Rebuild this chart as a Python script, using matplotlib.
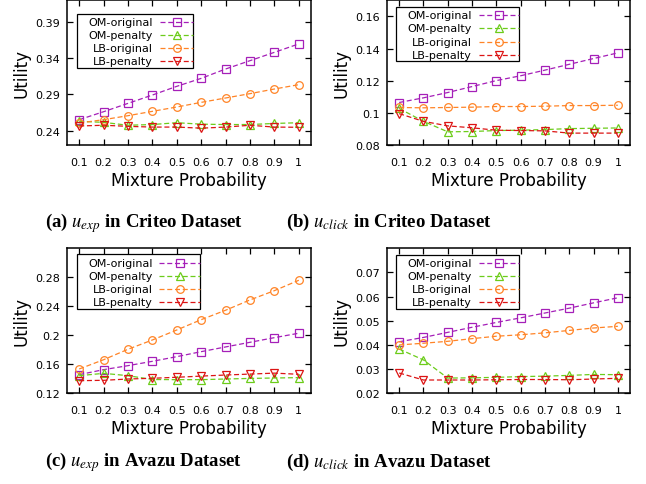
import matplotlib
matplotlib.use('Agg')
import matplotlib.pyplot as plt
from matplotlib.lines import Line2D
from matplotlib.patches import Rectangle
from matplotlib.transforms import Affine2D

plt.rcParams['font.family'] = 'DejaVu Sans'
plt.rcParams['mathtext.fontset'] = 'stix'

W, H = 646, 485

# Data
mix_prob = [0.1, 0.2, 0.3, 0.4, 0.5, 0.6, 0.7, 0.8, 0.9, 1.0]
xtick_labels = ['0.1', '0.2', '0.3', '0.4', '0.5', '0.6', '0.7', '0.8', '0.9', '1']
series_names = ['OM-original', 'OM-penalty', 'LB-original', 'LB-penalty']

criteo_exp_om_orig = [0.2552, 0.2662, 0.2777, 0.2892, 0.3012, 0.3122, 0.3251, 0.3366, 0.3481, 0.3597]
criteo_exp_om_pen = [0.2530, 0.2515, 0.2475, 0.2485, 0.2510, 0.2490, 0.2485, 0.2485, 0.2500, 0.2510]
criteo_exp_lb_orig = [0.2506, 0.2552, 0.2607, 0.2667, 0.2727, 0.2791, 0.2851, 0.2911, 0.2975, 0.3035]
criteo_exp_lb_pen = [0.2465, 0.2475, 0.2460, 0.2450, 0.2450, 0.2435, 0.2450, 0.2475, 0.2450, 0.2447]

criteo_click_om_orig = [0.1065, 0.1094, 0.1127, 0.1164, 0.1201, 0.1231, 0.1266, 0.1302, 0.1338, 0.1373]
criteo_click_om_pen = [0.1028, 0.0948, 0.0883, 0.0885, 0.0891, 0.0893, 0.0897, 0.0903, 0.0905, 0.0907]
criteo_click_lb_orig = [0.1034, 0.1032, 0.1034, 0.1036, 0.1040, 0.1040, 0.1042, 0.1046, 0.1046, 0.1048]
criteo_click_lb_pen = [0.0996, 0.0948, 0.0920, 0.0908, 0.0893, 0.0891, 0.0889, 0.0875, 0.0875, 0.0875]

avazu_exp_om_orig = [0.1457, 0.1526, 0.1581, 0.1641, 0.1705, 0.1774, 0.1839, 0.1903, 0.1967, 0.2028]
avazu_exp_om_pen = [0.1443, 0.1475, 0.1443, 0.1390, 0.1388, 0.1388, 0.1397, 0.1405, 0.1411, 0.1416]
avazu_exp_lb_orig = [0.1535, 0.1663, 0.1807, 0.1935, 0.2073, 0.2215, 0.2345, 0.2487, 0.2615, 0.2758]
avazu_exp_lb_pen = [0.1374, 0.1379, 0.1397, 0.1407, 0.1421, 0.1437, 0.1452, 0.1465, 0.1478, 0.1462]

avazu_click_om_orig = [0.0413, 0.0431, 0.0452, 0.0473, 0.0493, 0.0512, 0.0532, 0.0552, 0.0574, 0.0595]
avazu_click_om_pen = [0.0383, 0.0338, 0.0263, 0.0264, 0.0266, 0.0269, 0.0271, 0.0274, 0.0278, 0.0277]
avazu_click_lb_orig = [0.0400, 0.0407, 0.0415, 0.0426, 0.0436, 0.0442, 0.0450, 0.0460, 0.0470, 0.0477]
avazu_click_lb_pen = [0.0284, 0.0255, 0.0255, 0.0255, 0.0256, 0.0257, 0.0257, 0.0256, 0.0259, 0.0262]

# Styles
COLORS = ['#a51fb8', '#6ccc1a', '#ff8427', '#dc1414']
MARKERS = ['s', '^', 'o', 'v']

fig = plt.figure(figsize=(W / 100, H / 100), dpi=100, facecolor='white')
# pixel coords (y from top) -> figure
px = Affine2D().scale(1 / W, -1 / H).translate(0, 1) + fig.transFigure

panels = [
    dict(box=(67, 1.2, 311, 146.2),
         data=[criteo_exp_om_orig, criteo_exp_om_pen, criteo_exp_lb_orig, criteo_exp_lb_pen],
         ylim=(0.22, 0.42), yticks=[0.24, 0.29, 0.34, 0.39],
         yticklabels=['0.24', '0.29', '0.34', '0.39'],
         leg=dict(box=(77, 15, 193, 69), text_r=153, line=(160, 193), rows=[22.7, 35.6, 49, 62.3]),
         cap=(144, r'(a) $u_{exp}$ in Criteo Dataset', 227)),
    dict(box=(387, 1.2, 630, 146.2),
         data=[criteo_click_om_orig, criteo_click_om_pen, criteo_click_lb_orig, criteo_click_lb_pen],
         ylim=(0.08, 0.17), yticks=[0.08, 0.10, 0.12, 0.14, 0.16],
         yticklabels=['0.08', '0.1', '0.12', '0.14', '0.16'],
         leg=dict(box=(396, 8, 519, 62), text_r=471.7, line=(478.7, 519), rows=[15.7, 29, 42.7, 56]),
         cap=(388.5, r'(b) $u_{click}$ in Criteo Dataset', 227)),
    dict(box=(67, 249.2, 311, 394.3),
         data=[avazu_exp_om_orig, avazu_exp_om_pen, avazu_exp_lb_orig, avazu_exp_lb_pen],
         ylim=(0.12, 0.32), yticks=[0.12, 0.16, 0.20, 0.24, 0.28],
         yticklabels=['0.12', '0.16', '0.2', '0.24', '0.28'],
         leg=dict(box=(77, 255, 200, 310), text_r=152.7, line=(159, 200), rows=[264, 276.7, 290, 303.3]),
         cap=(144, r'(c) $u_{exp}$ in Avazu Dataset', 466.7)),
    dict(box=(387, 249.2, 630, 394.3),
         data=[avazu_click_om_orig, avazu_click_om_pen, avazu_click_lb_orig, avazu_click_lb_pen],
         ylim=(0.02, 0.08), yticks=[0.02, 0.03, 0.04, 0.05, 0.06, 0.07],
         yticklabels=['0.02', '0.03', '0.04', '0.05', '0.06', '0.07'],
         leg=dict(box=(396, 255.7, 519, 310), text_r=471.7, line=(478.7, 519), rows=[264, 277.3, 290, 303.3]),
         cap=(388.5, r'(d) $u_{click}$ in Avazu Dataset', 466.7)),
]

line_kw = dict(linewidth=0.9, dashes=(4, 2.2), markersize=5.5, markeredgewidth=0.9,
               markerfacecolor='none')

for p in panels:
    l, t, r, b = p['box']
    ax = fig.add_axes([l / W, 1 - b / H, (r - l) / W, (b - t) / H])
    for vals, c, m in zip(p['data'], COLORS, MARKERS):
        ax.plot(mix_prob, vals, color=c, marker=m, markeredgecolor=c, **line_kw)
    ax.set_xlim(0.05, 1.05)
    ax.set_ylim(*p['ylim'])
    ax.set_xticks(mix_prob)
    ax.set_xticklabels(xtick_labels)
    ax.set_yticks(p['yticks'])
    ax.set_yticklabels(p['yticklabels'])
    ax.tick_params(direction='in', length=4, width=0.9, top=True, right=True,
                   labelsize=8, colors='black')
    ax.tick_params(axis='x', pad=8.5)
    ax.tick_params(axis='y', pad=5)
    for s in ax.spines.values():
        s.set_linewidth(1.1)
    ax.set_xlabel('Mixture Probability', fontsize=12, va='center')
    ax.set_ylabel('Utility', fontsize=12, va='center')
    ax.xaxis.set_label_coords(0.5, -34.5 / (b - t))
    ax.yaxis.set_label_coords(-45.5 / (r - l), 0.5)

    # gnuplot-style key: text right-aligned, sample on the right
    lg = p['leg']
    bl, bt, br, bb = lg['box']
    fig.add_artist(Rectangle((bl, bb), br - bl, bt - bb, transform=px,
                             facecolor='white', edgecolor='black', linewidth=0.9))
    x0, x1 = lg['line']
    for name, c, m, yy in zip(series_names, COLORS, MARKERS, lg['rows']):
        fig.text(lg['text_r'], yy, name, transform=px, ha='right', va='center', fontsize=8)
        fig.add_artist(Line2D([x0, (x0 + x1) / 2, x1], [yy, yy, yy], transform=px,
                              color=c, marker=m, markeredgecolor=c, markevery=[1], **line_kw))

    cx, text, cy = p['cap']
    fig.text(cx, cy, text, transform=px, ha='center', va='baseline',
             fontsize=13.5, fontweight='bold', family='Liberation Serif')

fig.savefig('out.png', dpi=100, facecolor='white')
plt.close()
